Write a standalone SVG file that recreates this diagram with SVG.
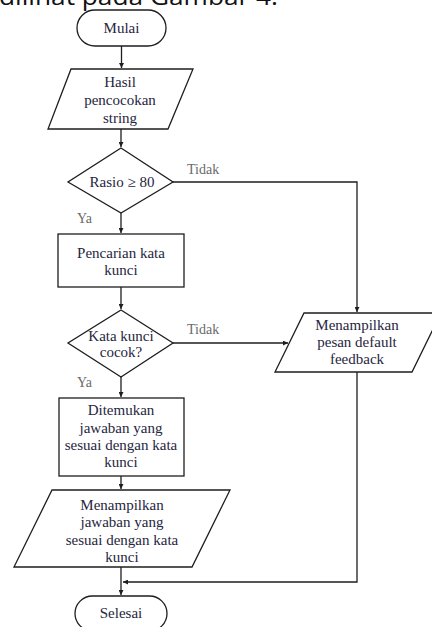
<svg xmlns="http://www.w3.org/2000/svg" width="432" height="627" viewBox="0 0 432 627">
  <style>
    .shape { fill: #ffffff; stroke: #1e1e1e; stroke-width: 1.3; }
    .edge { fill: none; stroke: #1e1e1e; stroke-width: 1.3; }
    .lbl { font-family: "Liberation Serif", "Times New Roman", serif; font-size: 15px; fill: #262640; text-anchor: middle; }
    .branch { font-family: "Liberation Serif", "Times New Roman", serif; font-size: 14px; fill: #6a6a6a; }
    .caption { font-family: "Open Sans", "Noto Sans", sans-serif; font-size: 24px; fill: #111111; }
  </style>
  <defs>
    <marker id="arrow" viewBox="0 0 10 10" refX="10" refY="5" markerWidth="5" markerHeight="5" orient="auto" markerUnits="userSpaceOnUse">
      <path d="M0,0 L10,5 L0,10 z" fill="#1e1e1e"/>
    </marker>
  </defs>

  <!-- caption line above the chart (cut at the top edge) -->
  <text class="caption" x="-1" y="5" textLength="279" lengthAdjust="spacingAndGlyphs">dilihat pada Gambar 4.</text>

  <g id="connectors">
    <path class="edge" d="M121.5,46 V68" marker-end="url(#arrow)"/>
    <path class="edge" d="M121,129 V147" marker-end="url(#arrow)"/>
    <path class="edge" d="M121,213 V233" marker-end="url(#arrow)"/>
    <path class="edge" d="M121,287 V309" marker-end="url(#arrow)"/>
    <path class="edge" d="M121,377 V397" marker-end="url(#arrow)"/>
    <path class="edge" d="M121,476 V489" marker-end="url(#arrow)"/>
    <path class="edge" d="M121,567 V595" marker-end="url(#arrow)"/>
    <path class="edge" d="M173,182 H357 V312" marker-end="url(#arrow)"/>
    <path class="edge" d="M173,343 H288" marker-end="url(#arrow)"/>
    <path class="edge" d="M357,372 V582 H123" marker-end="url(#arrow)"/>
    <text class="branch" x="187" y="174">Tidak</text>
    <text class="branch" x="77" y="223">Ya</text>
    <text class="branch" x="187" y="334">Tidak</text>
    <text class="branch" x="77" y="387">Ya</text>
  </g>

  <g id="mulai">
    <rect class="shape" x="77" y="10" width="89" height="36" rx="18" ry="18"/>
    <text class="lbl" x="121.5" y="33">Mulai</text>
  </g>

  <g id="hasil">
    <polygon class="shape" points="71,69 193,69 168,129 48,129"/>
    <text class="lbl" x="120" y="87">Hasil</text>
    <text class="lbl" x="120" y="105">pencocokan</text>
    <text class="lbl" x="120" y="123">string</text>
  </g>

  <g id="rasio">
    <polygon class="shape" points="121,148 173,182 121,213 68,182"/>
    <text class="lbl" x="122" y="187">Rasio ≥  80</text>
  </g>

  <g id="pencarian">
    <rect class="shape" x="58" y="234" width="126" height="53"/>
    <text class="lbl" x="121" y="258">Pencarian kata</text>
    <text class="lbl" x="121" y="275">kunci</text>
  </g>

  <g id="cocok">
    <polygon class="shape" points="121,310 173,343 121,377 68,343"/>
    <text class="lbl" x="121" y="341">Kata kunci</text>
    <text class="lbl" x="121" y="357">cocok?</text>
  </g>

  <g id="default">
    <polygon class="shape" points="304,313 441,313 412,372 275,372"/>
    <text class="lbl" x="357" y="330">Menampilkan</text>
    <text class="lbl" x="357" y="347">pesan default</text>
    <text class="lbl" x="357" y="364">feedback</text>
  </g>

  <g id="ditemukan">
    <rect class="shape" x="59" y="398" width="125" height="78"/>
    <text class="lbl" x="121" y="415">Ditemukan</text>
    <text class="lbl" x="121" y="433">jawaban yang</text>
    <text class="lbl" x="121" y="450">sesuai dengan kata</text>
    <text class="lbl" x="121" y="467">kunci</text>
  </g>

  <g id="tampil">
    <polygon class="shape" points="52,490 230,490 192,567 14,567"/>
    <text class="lbl" x="122" y="510">Menampilkan</text>
    <text class="lbl" x="122" y="527">jawaban yang</text>
    <text class="lbl" x="122" y="545">sesuai dengan kata</text>
    <text class="lbl" x="122" y="562">kunci</text>
  </g>

  <g id="selesai">
    <rect class="shape" x="75" y="596" width="92" height="35" rx="17.5" ry="17.5"/>
    <text class="lbl" x="121" y="618">Selesai</text>
  </g>
</svg>
